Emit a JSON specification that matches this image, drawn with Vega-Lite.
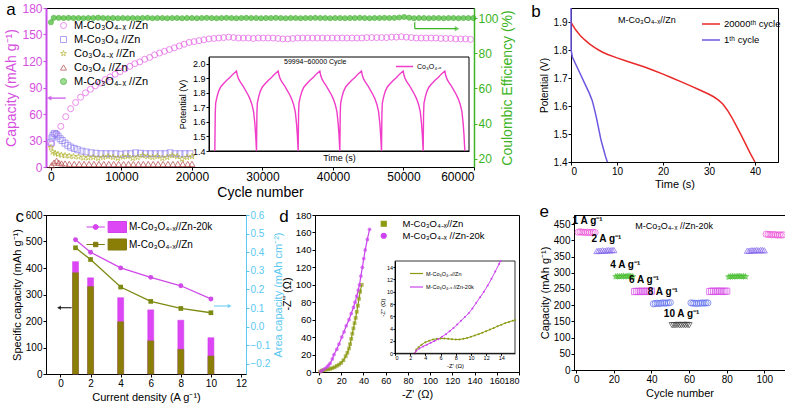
{
"$schema": "https://vega.github.io/schema/vega-lite/v6.json",
"background": "white",
"padding": {"left": 4, "top": 0, "right": 0, "bottom": 0},
"config": {
  "font": "Liberation Sans",
  "view": {"stroke": "black", "strokeWidth": 1},
  "axis": {"grid": false, "domainColor": "black", "tickColor": "black", "labelColor": "black", "titleColor": "black", "titleFontWeight": "normal", "tickSize": 3, "labelPadding": 1, "labelFontSize": 10, "titleFontSize": 11, "labelOverlap": false},
  "legend": {"titleFontWeight": "normal"}
},
"datasets": {
  "capA": [
    {"c":100,"v":26,"s":"MCo3O4x"},{"c":700,"v":38,"s":"MCo3O4x"},{"c":1400,"v":46,"s":"MCo3O4x"},{"c":2100,"v":57,"s":"MCo3O4x"},{"c":2800,"v":66,"s":"MCo3O4x"},{"c":3500,"v":73,"s":"MCo3O4x"},{"c":4200,"v":79,"s":"MCo3O4x"},{"c":4900,"v":84,"s":"MCo3O4x"},{"c":5600,"v":88,"s":"MCo3O4x"},{"c":6300,"v":92,"s":"MCo3O4x"},{"c":7000,"v":95,"s":"MCo3O4x"},{"c":7700,"v":99,"s":"MCo3O4x"},{"c":8400,"v":102,"s":"MCo3O4x"},{"c":9100,"v":105,"s":"MCo3O4x"},{"c":9800,"v":108,"s":"MCo3O4x"},{"c":10500,"v":111,"s":"MCo3O4x"},{"c":11200,"v":114,"s":"MCo3O4x"},{"c":11900,"v":117,"s":"MCo3O4x"},{"c":12600,"v":119,"s":"MCo3O4x"},{"c":13300,"v":122,"s":"MCo3O4x"},{"c":14000,"v":124,"s":"MCo3O4x"},{"c":14700,"v":127,"s":"MCo3O4x"},{"c":15400,"v":129,"s":"MCo3O4x"},{"c":16100,"v":131,"s":"MCo3O4x"},{"c":16800,"v":133,"s":"MCo3O4x"},{"c":17500,"v":135,"s":"MCo3O4x"},{"c":18200,"v":137,"s":"MCo3O4x"},{"c":18900,"v":139,"s":"MCo3O4x"},{"c":19600,"v":141,"s":"MCo3O4x"},{"c":20300,"v":142,"s":"MCo3O4x"},{"c":21000,"v":143,"s":"MCo3O4x"},{"c":21700,"v":144,"s":"MCo3O4x"},{"c":22400,"v":145,"s":"MCo3O4x"},{"c":23100,"v":145.5,"s":"MCo3O4x"},{"c":23800,"v":146,"s":"MCo3O4x"},{"c":24500,"v":146.5,"s":"MCo3O4x"},{"c":25200,"v":147,"s":"MCo3O4x"},{"c":25900,"v":146.5,"s":"MCo3O4x"},{"c":26600,"v":146,"s":"MCo3O4x"},{"c":27300,"v":146,"s":"MCo3O4x"},{"c":28000,"v":146,"s":"MCo3O4x"},{"c":28700,"v":145.5,"s":"MCo3O4x"},{"c":29400,"v":146,"s":"MCo3O4x"},{"c":30100,"v":146,"s":"MCo3O4x"},{"c":30800,"v":146,"s":"MCo3O4x"},{"c":31500,"v":146,"s":"MCo3O4x"},{"c":32200,"v":145.5,"s":"MCo3O4x"},{"c":32900,"v":145,"s":"MCo3O4x"},{"c":33600,"v":145,"s":"MCo3O4x"},{"c":34300,"v":145.5,"s":"MCo3O4x"},{"c":35000,"v":146,"s":"MCo3O4x"},{"c":35700,"v":146,"s":"MCo3O4x"},{"c":36400,"v":146,"s":"MCo3O4x"},{"c":37100,"v":146,"s":"MCo3O4x"},{"c":37800,"v":146,"s":"MCo3O4x"},{"c":38500,"v":146,"s":"MCo3O4x"},{"c":39200,"v":146,"s":"MCo3O4x"},{"c":39900,"v":146,"s":"MCo3O4x"},{"c":40600,"v":146,"s":"MCo3O4x"},{"c":41300,"v":146,"s":"MCo3O4x"},{"c":42000,"v":146,"s":"MCo3O4x"},{"c":42700,"v":146,"s":"MCo3O4x"},{"c":43400,"v":146,"s":"MCo3O4x"},{"c":44100,"v":146,"s":"MCo3O4x"},{"c":44800,"v":146.5,"s":"MCo3O4x"},{"c":45500,"v":146.5,"s":"MCo3O4x"},{"c":46200,"v":146.5,"s":"MCo3O4x"},{"c":46900,"v":146.5,"s":"MCo3O4x"},{"c":47600,"v":146.5,"s":"MCo3O4x"},{"c":48300,"v":147,"s":"MCo3O4x"},{"c":49000,"v":147,"s":"MCo3O4x"},{"c":49700,"v":147.5,"s":"MCo3O4x"},{"c":50400,"v":147,"s":"MCo3O4x"},{"c":51100,"v":146.5,"s":"MCo3O4x"},{"c":51800,"v":146,"s":"MCo3O4x"},{"c":52500,"v":146,"s":"MCo3O4x"},{"c":53200,"v":146,"s":"MCo3O4x"},{"c":53900,"v":146,"s":"MCo3O4x"},{"c":54600,"v":146,"s":"MCo3O4x"},{"c":55300,"v":145.5,"s":"MCo3O4x"},{"c":56000,"v":145.5,"s":"MCo3O4x"},{"c":56700,"v":145.5,"s":"MCo3O4x"},{"c":57400,"v":145,"s":"MCo3O4x"},{"c":58100,"v":145,"s":"MCo3O4x"},{"c":58800,"v":145,"s":"MCo3O4x"},{"c":59500,"v":144.5,"s":"MCo3O4x"},
    {"c":0,"v":28,"s":"MCo3O4"},{"c":150,"v":33,"s":"MCo3O4"},{"c":300,"v":36,"s":"MCo3O4"},{"c":500,"v":38,"s":"MCo3O4"},{"c":750,"v":37,"s":"MCo3O4"},{"c":1000,"v":35,"s":"MCo3O4"},{"c":1300,"v":32,"s":"MCo3O4"},{"c":1600,"v":30,"s":"MCo3O4"},{"c":2000,"v":27,"s":"MCo3O4"},{"c":2400,"v":24.5,"s":"MCo3O4"},{"c":2800,"v":22.5,"s":"MCo3O4"},{"c":3300,"v":21,"s":"MCo3O4"},{"c":3800,"v":19.5,"s":"MCo3O4"},{"c":4400,"v":18,"s":"MCo3O4"},{"c":5000,"v":17,"s":"MCo3O4"},{"c":5700,"v":16,"s":"MCo3O4"},{"c":6400,"v":15.5,"s":"MCo3O4"},{"c":7100,"v":15,"s":"MCo3O4"},{"c":7800,"v":15,"s":"MCo3O4"},{"c":8500,"v":15,"s":"MCo3O4"},{"c":9200,"v":15,"s":"MCo3O4"},{"c":9900,"v":14.5,"s":"MCo3O4"},{"c":10600,"v":15,"s":"MCo3O4"},{"c":11300,"v":15,"s":"MCo3O4"},{"c":12000,"v":16,"s":"MCo3O4"},{"c":12700,"v":15.5,"s":"MCo3O4"},{"c":13400,"v":15,"s":"MCo3O4"},{"c":14100,"v":15,"s":"MCo3O4"},{"c":14800,"v":15,"s":"MCo3O4"},{"c":15500,"v":15,"s":"MCo3O4"},{"c":16200,"v":15,"s":"MCo3O4"},{"c":16900,"v":16,"s":"MCo3O4"},{"c":17600,"v":15,"s":"MCo3O4"},{"c":18300,"v":15,"s":"MCo3O4"},{"c":19000,"v":15,"s":"MCo3O4"},{"c":19700,"v":15,"s":"MCo3O4"},
    {"c":0,"v":22,"s":"Co3O4x"},{"c":250,"v":17,"s":"Co3O4x"},{"c":600,"v":15.5,"s":"Co3O4x"},{"c":1000,"v":14.5,"s":"Co3O4x"},{"c":1500,"v":13.5,"s":"Co3O4x"},{"c":2000,"v":13,"s":"Co3O4x"},{"c":2600,"v":12.5,"s":"Co3O4x"},{"c":3200,"v":12,"s":"Co3O4x"},{"c":3900,"v":11.5,"s":"Co3O4x"},{"c":4600,"v":10.5,"s":"Co3O4x"},{"c":5300,"v":10.5,"s":"Co3O4x"},{"c":6000,"v":11,"s":"Co3O4x"},{"c":6700,"v":10,"s":"Co3O4x"},{"c":7400,"v":11,"s":"Co3O4x"},{"c":8100,"v":12,"s":"Co3O4x"},{"c":8800,"v":11,"s":"Co3O4x"},{"c":9500,"v":10,"s":"Co3O4x"},{"c":10200,"v":11.5,"s":"Co3O4x"},{"c":10900,"v":12,"s":"Co3O4x"},{"c":11600,"v":10,"s":"Co3O4x"},{"c":12300,"v":11,"s":"Co3O4x"},{"c":13000,"v":13,"s":"Co3O4x"},{"c":13700,"v":12,"s":"Co3O4x"},{"c":14400,"v":11,"s":"Co3O4x"},{"c":15100,"v":12,"s":"Co3O4x"},{"c":15800,"v":10,"s":"Co3O4x"},{"c":16500,"v":11,"s":"Co3O4x"},{"c":17200,"v":13,"s":"Co3O4x"},{"c":17900,"v":12,"s":"Co3O4x"},{"c":18600,"v":9,"s":"Co3O4x"},{"c":19300,"v":11,"s":"Co3O4x"},{"c":20000,"v":12,"s":"Co3O4x"},
    {"c":100,"v":2,"s":"Co3O4"},{"c":450,"v":5,"s":"Co3O4"},{"c":800,"v":7,"s":"Co3O4"},{"c":1100,"v":5,"s":"Co3O4"},{"c":1500,"v":4,"s":"Co3O4"},{"c":2000,"v":4,"s":"Co3O4"},{"c":2600,"v":3.5,"s":"Co3O4"},{"c":3300,"v":3.5,"s":"Co3O4"},{"c":4000,"v":3.5,"s":"Co3O4"},{"c":4700,"v":3.5,"s":"Co3O4"},{"c":5400,"v":3.5,"s":"Co3O4"},{"c":6100,"v":3.5,"s":"Co3O4"},{"c":6800,"v":3.5,"s":"Co3O4"},{"c":7500,"v":3.5,"s":"Co3O4"},{"c":8200,"v":3.5,"s":"Co3O4"},{"c":8900,"v":3.5,"s":"Co3O4"},{"c":9600,"v":3.5,"s":"Co3O4"},{"c":10300,"v":3.5,"s":"Co3O4"},{"c":11000,"v":3.5,"s":"Co3O4"},{"c":11700,"v":3.5,"s":"Co3O4"},{"c":12400,"v":3.5,"s":"Co3O4"},{"c":13100,"v":3.5,"s":"Co3O4"},{"c":13800,"v":3.5,"s":"Co3O4"},{"c":14500,"v":3.5,"s":"Co3O4"},{"c":15200,"v":3.5,"s":"Co3O4"},{"c":15900,"v":3.5,"s":"Co3O4"},{"c":16600,"v":3.5,"s":"Co3O4"},{"c":17300,"v":3.5,"s":"Co3O4"},{"c":18000,"v":3.5,"s":"Co3O4"},{"c":18700,"v":3.5,"s":"Co3O4"},{"c":19400,"v":3.5,"s":"Co3O4"},{"c":20000,"v":3.5,"s":"Co3O4"}
  ],
  "ceA": [
    {"c":0,"v":97.6,"s":"CE"},{"c":400,"v":100.1,"s":"CE"},{"c":1100,"v":100.1,"s":"CE"},{"c":1800,"v":100,"s":"CE"},{"c":2500,"v":100.1,"s":"CE"},{"c":3200,"v":100,"s":"CE"},{"c":3900,"v":100,"s":"CE"},{"c":4600,"v":99.9,"s":"CE"},{"c":5300,"v":100,"s":"CE"},{"c":6000,"v":100,"s":"CE"},{"c":6700,"v":100.2,"s":"CE"},{"c":7400,"v":100,"s":"CE"},{"c":8100,"v":99.9,"s":"CE"},{"c":8800,"v":100,"s":"CE"},{"c":9500,"v":99.9,"s":"CE"},{"c":10200,"v":100,"s":"CE"},{"c":10900,"v":99.9,"s":"CE"},{"c":11600,"v":100,"s":"CE"},{"c":12300,"v":99.9,"s":"CE"},{"c":13000,"v":100,"s":"CE"},{"c":13700,"v":100.1,"s":"CE"},{"c":14400,"v":99.9,"s":"CE"},{"c":15100,"v":100,"s":"CE"},{"c":15800,"v":100,"s":"CE"},{"c":16500,"v":99.9,"s":"CE"},{"c":17200,"v":100,"s":"CE"},{"c":17900,"v":100,"s":"CE"},{"c":18600,"v":99.9,"s":"CE"},{"c":19300,"v":100,"s":"CE"},{"c":20000,"v":100,"s":"CE"},{"c":20700,"v":99.9,"s":"CE"},{"c":21400,"v":100,"s":"CE"},{"c":22100,"v":100.1,"s":"CE"},{"c":22800,"v":100,"s":"CE"},{"c":23500,"v":99.9,"s":"CE"},{"c":24200,"v":100,"s":"CE"},{"c":24900,"v":100.1,"s":"CE"},{"c":25600,"v":100,"s":"CE"},{"c":26300,"v":99.9,"s":"CE"},{"c":27000,"v":100,"s":"CE"},{"c":27700,"v":100.1,"s":"CE"},{"c":28400,"v":100,"s":"CE"},{"c":29100,"v":100,"s":"CE"},{"c":29800,"v":99.9,"s":"CE"},{"c":30500,"v":100,"s":"CE"},{"c":31200,"v":100,"s":"CE"},{"c":31900,"v":100.1,"s":"CE"},{"c":32600,"v":100,"s":"CE"},{"c":33300,"v":99.9,"s":"CE"},{"c":34000,"v":100,"s":"CE"},{"c":34700,"v":100,"s":"CE"},{"c":35400,"v":99.9,"s":"CE"},{"c":36100,"v":100,"s":"CE"},{"c":36800,"v":100,"s":"CE"},{"c":37500,"v":100.1,"s":"CE"},{"c":38200,"v":100,"s":"CE"},{"c":38900,"v":100,"s":"CE"},{"c":39600,"v":99.9,"s":"CE"},{"c":40300,"v":100,"s":"CE"},{"c":41000,"v":100,"s":"CE"},{"c":41700,"v":99.9,"s":"CE"},{"c":42400,"v":100,"s":"CE"},{"c":43100,"v":100,"s":"CE"},{"c":43800,"v":100.1,"s":"CE"},{"c":44500,"v":100,"s":"CE"},{"c":45200,"v":99.9,"s":"CE"},{"c":45900,"v":100,"s":"CE"},{"c":46600,"v":100,"s":"CE"},{"c":47300,"v":100.1,"s":"CE"},{"c":48000,"v":100,"s":"CE"},{"c":48700,"v":100.1,"s":"CE"},{"c":49400,"v":100.3,"s":"CE"},{"c":50100,"v":100.6,"s":"CE"},{"c":50800,"v":100.2,"s":"CE"},{"c":51500,"v":99.9,"s":"CE"},{"c":52200,"v":100,"s":"CE"},{"c":52900,"v":100,"s":"CE"},{"c":53600,"v":99.9,"s":"CE"},{"c":54300,"v":100,"s":"CE"},{"c":55000,"v":100,"s":"CE"},{"c":55700,"v":99.9,"s":"CE"},{"c":56400,"v":100,"s":"CE"},{"c":57100,"v":100,"s":"CE"},{"c":57800,"v":99.9,"s":"CE"},{"c":58500,"v":100,"s":"CE"},{"c":59200,"v":100,"s":"CE"},{"c":59900,"v":100,"s":"CE"}
  ],
  "insA": [
    {"t":0,"v":1.4},{"t":1,"v":1.66},{"t":2,"v":1.73},{"t":5,"v":1.77},{"t":9,"v":1.81},{"t":14,"v":1.84},{"t":20,"v":1.86},{"t":28,"v":1.885},{"t":36,"v":1.905},{"t":44,"v":1.93},{"t":52,"v":1.95},{"t":54,"v":1.92},{"t":57,"v":1.895},{"t":61,"v":1.875},{"t":67,"v":1.85},{"t":73,"v":1.82},{"t":79,"v":1.79},{"t":84,"v":1.76},{"t":89,"v":1.72},{"t":93,"v":1.67},{"t":96,"v":1.59},{"t":98,"v":1.51},
    {"t":100,"v":1.4},{"t":101,"v":1.66},{"t":102,"v":1.73},{"t":105,"v":1.77},{"t":109,"v":1.81},{"t":114,"v":1.84},{"t":120,"v":1.86},{"t":128,"v":1.885},{"t":136,"v":1.905},{"t":144,"v":1.93},{"t":152,"v":1.95},{"t":154,"v":1.92},{"t":157,"v":1.895},{"t":161,"v":1.875},{"t":167,"v":1.85},{"t":173,"v":1.82},{"t":179,"v":1.79},{"t":184,"v":1.76},{"t":189,"v":1.72},{"t":193,"v":1.67},{"t":196,"v":1.59},{"t":198,"v":1.51},
    {"t":200,"v":1.4},{"t":201,"v":1.66},{"t":202,"v":1.73},{"t":205,"v":1.77},{"t":209,"v":1.81},{"t":214,"v":1.84},{"t":220,"v":1.86},{"t":228,"v":1.885},{"t":236,"v":1.905},{"t":244,"v":1.93},{"t":252,"v":1.95},{"t":254,"v":1.92},{"t":257,"v":1.895},{"t":261,"v":1.875},{"t":267,"v":1.85},{"t":273,"v":1.82},{"t":279,"v":1.79},{"t":284,"v":1.76},{"t":289,"v":1.72},{"t":293,"v":1.67},{"t":296,"v":1.59},{"t":298,"v":1.51},
    {"t":300,"v":1.4},{"t":301,"v":1.66},{"t":302,"v":1.73},{"t":305,"v":1.77},{"t":309,"v":1.81},{"t":314,"v":1.84},{"t":320,"v":1.86},{"t":328,"v":1.885},{"t":336,"v":1.905},{"t":344,"v":1.93},{"t":352,"v":1.95},{"t":354,"v":1.92},{"t":357,"v":1.895},{"t":361,"v":1.875},{"t":367,"v":1.85},{"t":373,"v":1.82},{"t":379,"v":1.79},{"t":384,"v":1.76},{"t":389,"v":1.72},{"t":393,"v":1.67},{"t":396,"v":1.59},{"t":398,"v":1.51},
    {"t":400,"v":1.4},{"t":401,"v":1.66},{"t":402,"v":1.73},{"t":405,"v":1.77},{"t":409,"v":1.81},{"t":414,"v":1.84},{"t":420,"v":1.86},{"t":428,"v":1.885},{"t":436,"v":1.905},{"t":444,"v":1.93},{"t":452,"v":1.95},{"t":454,"v":1.92},{"t":457,"v":1.895},{"t":461,"v":1.875},{"t":467,"v":1.85},{"t":473,"v":1.82},{"t":479,"v":1.79},{"t":484,"v":1.76},{"t":489,"v":1.72},{"t":493,"v":1.67},{"t":496,"v":1.59},{"t":498,"v":1.51},
    {"t":500,"v":1.4},{"t":501,"v":1.66},{"t":502,"v":1.73},{"t":505,"v":1.77},{"t":509,"v":1.81},{"t":514,"v":1.84},{"t":520,"v":1.86},{"t":528,"v":1.885},{"t":536,"v":1.905},{"t":544,"v":1.93},{"t":552,"v":1.95},{"t":554,"v":1.92},{"t":557,"v":1.895},{"t":561,"v":1.875},{"t":567,"v":1.85},{"t":573,"v":1.82},{"t":579,"v":1.79},{"t":584,"v":1.76},{"t":589,"v":1.72},{"t":593,"v":1.67},{"t":596,"v":1.59},{"t":598,"v":1.51},
    {"t":600,"v":1.4}
  ],
  "bdat": [
    {"t":0,"v":1.9,"s":"20000ᵗʰ cycle","o":0},{"t":0.5,"v":1.885,"s":"20000ᵗʰ cycle","o":1},{"t":1,"v":1.872,"s":"20000ᵗʰ cycle","o":2},{"t":2,"v":1.852,"s":"20000ᵗʰ cycle","o":3},{"t":3,"v":1.836,"s":"20000ᵗʰ cycle","o":4},{"t":4,"v":1.822,"s":"20000ᵗʰ cycle","o":5},{"t":5,"v":1.81,"s":"20000ᵗʰ cycle","o":6},{"t":6,"v":1.8,"s":"20000ᵗʰ cycle","o":7},{"t":7,"v":1.791,"s":"20000ᵗʰ cycle","o":8},{"t":8,"v":1.784,"s":"20000ᵗʰ cycle","o":9},{"t":10,"v":1.772,"s":"20000ᵗʰ cycle","o":10},{"t":12,"v":1.761,"s":"20000ᵗʰ cycle","o":11},{"t":14,"v":1.75,"s":"20000ᵗʰ cycle","o":12},{"t":16,"v":1.739,"s":"20000ᵗʰ cycle","o":13},{"t":18,"v":1.727,"s":"20000ᵗʰ cycle","o":14},{"t":20,"v":1.714,"s":"20000ᵗʰ cycle","o":15},{"t":22,"v":1.7,"s":"20000ᵗʰ cycle","o":16},{"t":24,"v":1.686,"s":"20000ᵗʰ cycle","o":17},{"t":26,"v":1.672,"s":"20000ᵗʰ cycle","o":18},{"t":28,"v":1.657,"s":"20000ᵗʰ cycle","o":19},{"t":30,"v":1.642,"s":"20000ᵗʰ cycle","o":20},{"t":31,"v":1.633,"s":"20000ᵗʰ cycle","o":21},{"t":32,"v":1.622,"s":"20000ᵗʰ cycle","o":22},{"t":33,"v":1.607,"s":"20000ᵗʰ cycle","o":23},{"t":34,"v":1.585,"s":"20000ᵗʰ cycle","o":24},{"t":35,"v":1.558,"s":"20000ᵗʰ cycle","o":25},{"t":36,"v":1.527,"s":"20000ᵗʰ cycle","o":26},{"t":37,"v":1.496,"s":"20000ᵗʰ cycle","o":27},{"t":38,"v":1.463,"s":"20000ᵗʰ cycle","o":28},{"t":39,"v":1.43,"s":"20000ᵗʰ cycle","o":29},{"t":40,"v":1.4,"s":"20000ᵗʰ cycle","o":30},
    {"t":0,"v":1.95,"s":"1ᵗʰ cycle","o":0},{"t":0.02,"v":1.8,"s":"1ᵗʰ cycle","o":1},{"t":0.3,"v":1.775,"s":"1ᵗʰ cycle","o":2},{"t":1,"v":1.75,"s":"1ᵗʰ cycle","o":3},{"t":2,"v":1.715,"s":"1ᵗʰ cycle","o":4},{"t":3,"v":1.68,"s":"1ᵗʰ cycle","o":5},{"t":4,"v":1.645,"s":"1ᵗʰ cycle","o":6},{"t":4.6,"v":1.62,"s":"1ᵗʰ cycle","o":7},{"t":5,"v":1.595,"s":"1ᵗʰ cycle","o":8},{"t":5.5,"v":1.56,"s":"1ᵗʰ cycle","o":9},{"t":6,"v":1.52,"s":"1ᵗʰ cycle","o":10},{"t":6.5,"v":1.48,"s":"1ᵗʰ cycle","o":11},{"t":7,"v":1.45,"s":"1ᵗʰ cycle","o":12},{"t":7.5,"v":1.42,"s":"1ᵗʰ cycle","o":13},{"t":7.9,"v":1.4,"s":"1ᵗʰ cycle","o":14}
  ],
  "cbar": [
    {"x":1,"v":424,"s":"k20"},{"x":2,"v":363,"s":"k20"},{"x":4,"v":288,"s":"k20"},{"x":6,"v":242,"s":"k20"},{"x":8,"v":203,"s":"k20"},{"x":10,"v":137,"s":"k20"},
    {"x":1,"v":382,"s":"zn"},{"x":2,"v":330,"s":"zn"},{"x":4,"v":197,"s":"zn"},{"x":6,"v":125,"s":"zn"},{"x":8,"v":93,"s":"zn"},{"x":10,"v":68,"s":"zn"}
  ],
  "cline": [
    {"x":1,"v":0.467,"s":"k20"},{"x":2,"v":0.4,"s":"k20"},{"x":4,"v":0.316,"s":"k20"},{"x":6,"v":0.265,"s":"k20"},{"x":8,"v":0.22,"s":"k20"},{"x":10,"v":0.149,"s":"k20"},
    {"x":1,"v":0.424,"s":"zn"},{"x":2,"v":0.361,"s":"zn"},{"x":4,"v":0.213,"s":"zn"},{"x":6,"v":0.136,"s":"zn"},{"x":8,"v":0.098,"s":"zn"},{"x":10,"v":0.075,"s":"zn"}
  ],
  "dmain": [
    {"x":1,"v":0.5,"s":"zn"},{"x":2.5,"v":1.5,"s":"zn"},{"x":4,"v":2.2,"s":"zn"},{"x":6,"v":2.6,"s":"zn"},{"x":8,"v":3,"s":"zn"},{"x":10,"v":3.6,"s":"zn"},{"x":12,"v":4.5,"s":"zn"},{"x":14,"v":5.5,"s":"zn"},{"x":16,"v":7,"s":"zn"},{"x":18,"v":8.5,"s":"zn"},{"x":20,"v":10.5,"s":"zn"},{"x":22,"v":13.5,"s":"zn"},{"x":24,"v":18,"s":"zn"},{"x":25.5,"v":22,"s":"zn"},{"x":27,"v":27,"s":"zn"},{"x":28,"v":32,"s":"zn"},{"x":29,"v":38,"s":"zn"},{"x":30,"v":44,"s":"zn"},{"x":31,"v":50,"s":"zn"},{"x":32,"v":56,"s":"zn"},{"x":33,"v":62,"s":"zn"},{"x":34,"v":69,"s":"zn"},{"x":35,"v":76,"s":"zn"},{"x":36,"v":84,"s":"zn"},{"x":37,"v":92,"s":"zn"},{"x":38.5,"v":100,"s":"zn"},
    {"x":1.5,"v":0.5,"s":"k20"},{"x":3,"v":2,"s":"k20"},{"x":5,"v":3.5,"s":"k20"},{"x":7,"v":5.5,"s":"k20"},{"x":8.5,"v":7.5,"s":"k20"},{"x":10,"v":10,"s":"k20"},{"x":12,"v":15,"s":"k20"},{"x":13.5,"v":20,"s":"k20"},{"x":16,"v":26,"s":"k20"},{"x":18,"v":32,"s":"k20"},{"x":20.5,"v":40,"s":"k20"},{"x":22.5,"v":46,"s":"k20"},{"x":24.5,"v":53,"s":"k20"},{"x":27,"v":60,"s":"k20"},{"x":29,"v":67,"s":"k20"},{"x":31,"v":74,"s":"k20"},{"x":32.5,"v":80,"s":"k20"},{"x":34,"v":87,"s":"k20"},{"x":35.3,"v":94,"s":"k20"},{"x":36.4,"v":100,"s":"k20"},{"x":37.7,"v":110,"s":"k20"},{"x":39,"v":120,"s":"k20"},{"x":40.3,"v":130,"s":"k20"},{"x":41.6,"v":140,"s":"k20"},{"x":43.5,"v":152,"s":"k20"},{"x":45.5,"v":163.6,"s":"k20"}
  ],
  "dins": [
    {"x":2.6,"v":0,"s":"izn"},{"x":2.8,"v":0.6,"s":"izn"},{"x":3.1,"v":1,"s":"izn"},{"x":3.5,"v":1.4,"s":"izn"},{"x":4,"v":1.8,"s":"izn"},{"x":4.5,"v":2.05,"s":"izn"},{"x":5,"v":2.25,"s":"izn"},{"x":5.5,"v":2.35,"s":"izn"},{"x":6,"v":2.4,"s":"izn"},{"x":6.5,"v":2.4,"s":"izn"},{"x":7,"v":2.35,"s":"izn"},{"x":7.5,"v":2.3,"s":"izn"},{"x":8,"v":2.25,"s":"izn"},{"x":8.5,"v":2.25,"s":"izn"},{"x":9,"v":2.35,"s":"izn"},{"x":9.5,"v":2.5,"s":"izn"},{"x":10,"v":2.7,"s":"izn"},{"x":10.5,"v":2.9,"s":"izn"},{"x":11,"v":3.1,"s":"izn"},{"x":11.5,"v":3.35,"s":"izn"},{"x":12,"v":3.6,"s":"izn"},{"x":12.5,"v":3.85,"s":"izn"},{"x":13,"v":4.1,"s":"izn"},{"x":13.5,"v":4.4,"s":"izn"},{"x":14,"v":4.65,"s":"izn"},{"x":14.5,"v":4.9,"s":"izn"},{"x":15,"v":5.1,"s":"izn"},{"x":15.5,"v":5.3,"s":"izn"},{"x":15.8,"v":5.4,"s":"izn"},
    {"x":2.6,"v":0,"s":"i20"},{"x":2.8,"v":0.4,"s":"i20"},{"x":3.2,"v":0.8,"s":"i20"},{"x":3.7,"v":1.1,"s":"i20"},{"x":4.2,"v":1.4,"s":"i20"},{"x":4.7,"v":1.7,"s":"i20"},{"x":5.2,"v":2,"s":"i20"},{"x":5.7,"v":2.3,"s":"i20"},{"x":6.2,"v":2.7,"s":"i20"},{"x":6.7,"v":3.1,"s":"i20"},{"x":7.2,"v":3.6,"s":"i20"},{"x":7.7,"v":4.1,"s":"i20"},{"x":8.2,"v":4.7,"s":"i20"},{"x":8.7,"v":5.3,"s":"i20"},{"x":9.2,"v":5.9,"s":"i20"},{"x":9.7,"v":6.5,"s":"i20"},{"x":10.2,"v":7.3,"s":"i20"},{"x":10.7,"v":8.2,"s":"i20"},{"x":11.2,"v":9.1,"s":"i20"},{"x":11.7,"v":10,"s":"i20"},{"x":12.2,"v":11,"s":"i20"},{"x":12.7,"v":12.1,"s":"i20"},{"x":13.2,"v":13.3,"s":"i20"},{"x":13.7,"v":14.5,"s":"i20"},{"x":13.9,"v":15,"s":"i20"}
  ],
  "edat": [
    {"x":1,"v":425,"r":"1 A g⁻¹"},{"x":2,"v":426,"r":"1 A g⁻¹"},{"x":3,"v":425,"r":"1 A g⁻¹"},{"x":4,"v":425,"r":"1 A g⁻¹"},{"x":5,"v":424,"r":"1 A g⁻¹"},{"x":6,"v":425,"r":"1 A g⁻¹"},{"x":7,"v":424,"r":"1 A g⁻¹"},{"x":8,"v":424,"r":"1 A g⁻¹"},{"x":9,"v":425,"r":"1 A g⁻¹"},{"x":10,"v":424,"r":"1 A g⁻¹"},
    {"x":11,"v":367,"r":"2 A g⁻¹"},{"x":12,"v":368,"r":"2 A g⁻¹"},{"x":13,"v":368,"r":"2 A g⁻¹"},{"x":14,"v":369,"r":"2 A g⁻¹"},{"x":15,"v":368,"r":"2 A g⁻¹"},{"x":16,"v":369,"r":"2 A g⁻¹"},{"x":17,"v":370,"r":"2 A g⁻¹"},{"x":18,"v":369,"r":"2 A g⁻¹"},{"x":19,"v":370,"r":"2 A g⁻¹"},{"x":20,"v":370,"r":"2 A g⁻¹"},
    {"x":21,"v":288,"r":"4 A g⁻¹"},{"x":22,"v":289,"r":"4 A g⁻¹"},{"x":23,"v":288,"r":"4 A g⁻¹"},{"x":24,"v":289,"r":"4 A g⁻¹"},{"x":25,"v":290,"r":"4 A g⁻¹"},{"x":26,"v":288,"r":"4 A g⁻¹"},{"x":27,"v":289,"r":"4 A g⁻¹"},{"x":28,"v":290,"r":"4 A g⁻¹"},{"x":29,"v":289,"r":"4 A g⁻¹"},{"x":30,"v":288,"r":"4 A g⁻¹"},
    {"x":31,"v":242,"r":"6 A g⁻¹"},{"x":32,"v":242,"r":"6 A g⁻¹"},{"x":33,"v":243,"r":"6 A g⁻¹"},{"x":34,"v":242,"r":"6 A g⁻¹"},{"x":35,"v":243,"r":"6 A g⁻¹"},{"x":36,"v":242,"r":"6 A g⁻¹"},{"x":37,"v":243,"r":"6 A g⁻¹"},{"x":38,"v":243,"r":"6 A g⁻¹"},{"x":39,"v":242,"r":"6 A g⁻¹"},{"x":40,"v":243,"r":"6 A g⁻¹"},
    {"x":41,"v":204,"r":"8 A g⁻¹"},{"x":42,"v":205,"r":"8 A g⁻¹"},{"x":43,"v":206,"r":"8 A g⁻¹"},{"x":44,"v":205,"r":"8 A g⁻¹"},{"x":45,"v":206,"r":"8 A g⁻¹"},{"x":46,"v":207,"r":"8 A g⁻¹"},{"x":47,"v":206,"r":"8 A g⁻¹"},{"x":48,"v":207,"r":"8 A g⁻¹"},{"x":49,"v":207,"r":"8 A g⁻¹"},{"x":50,"v":208,"r":"8 A g⁻¹"},
    {"x":51,"v":138,"r":"10 A g⁻¹"},{"x":52,"v":138,"r":"10 A g⁻¹"},{"x":53,"v":138,"r":"10 A g⁻¹"},{"x":54,"v":139,"r":"10 A g⁻¹"},{"x":55,"v":138,"r":"10 A g⁻¹"},{"x":56,"v":138,"r":"10 A g⁻¹"},{"x":57,"v":139,"r":"10 A g⁻¹"},{"x":58,"v":138,"r":"10 A g⁻¹"},{"x":59,"v":139,"r":"10 A g⁻¹"},{"x":60,"v":138,"r":"10 A g⁻¹"},
    {"x":61,"v":207,"r":"8 A g⁻¹"},{"x":62,"v":206,"r":"8 A g⁻¹"},{"x":63,"v":206,"r":"8 A g⁻¹"},{"x":64,"v":205,"r":"8 A g⁻¹"},{"x":65,"v":206,"r":"8 A g⁻¹"},{"x":66,"v":206,"r":"8 A g⁻¹"},{"x":67,"v":207,"r":"8 A g⁻¹"},{"x":68,"v":206,"r":"8 A g⁻¹"},{"x":69,"v":207,"r":"8 A g⁻¹"},{"x":70,"v":207,"r":"8 A g⁻¹"},
    {"x":71,"v":242,"r":"6 A g⁻¹"},{"x":72,"v":243,"r":"6 A g⁻¹"},{"x":73,"v":243,"r":"6 A g⁻¹"},{"x":74,"v":242,"r":"6 A g⁻¹"},{"x":75,"v":243,"r":"6 A g⁻¹"},{"x":76,"v":243,"r":"6 A g⁻¹"},{"x":77,"v":243,"r":"6 A g⁻¹"},{"x":78,"v":242,"r":"6 A g⁻¹"},{"x":79,"v":243,"r":"6 A g⁻¹"},{"x":80,"v":243,"r":"6 A g⁻¹"},
    {"x":81,"v":287,"r":"4 A g⁻¹"},{"x":82,"v":288,"r":"4 A g⁻¹"},{"x":83,"v":289,"r":"4 A g⁻¹"},{"x":84,"v":288,"r":"4 A g⁻¹"},{"x":85,"v":288,"r":"4 A g⁻¹"},{"x":86,"v":289,"r":"4 A g⁻¹"},{"x":87,"v":289,"r":"4 A g⁻¹"},{"x":88,"v":288,"r":"4 A g⁻¹"},{"x":89,"v":289,"r":"4 A g⁻¹"},{"x":90,"v":288,"r":"4 A g⁻¹"},
    {"x":91,"v":368,"r":"2 A g⁻¹"},{"x":92,"v":368,"r":"2 A g⁻¹"},{"x":93,"v":369,"r":"2 A g⁻¹"},{"x":94,"v":369,"r":"2 A g⁻¹"},{"x":95,"v":369,"r":"2 A g⁻¹"},{"x":96,"v":370,"r":"2 A g⁻¹"},{"x":97,"v":369,"r":"2 A g⁻¹"},{"x":98,"v":370,"r":"2 A g⁻¹"},{"x":99,"v":370,"r":"2 A g⁻¹"},{"x":100,"v":369,"r":"2 A g⁻¹"},
    {"x":101,"v":419,"r":"1 A g⁻¹"},{"x":102,"v":418,"r":"1 A g⁻¹"},{"x":103,"v":418,"r":"1 A g⁻¹"},{"x":104,"v":417,"r":"1 A g⁻¹"},{"x":105,"v":418,"r":"1 A g⁻¹"},{"x":106,"v":417,"r":"1 A g⁻¹"},{"x":107,"v":416,"r":"1 A g⁻¹"},{"x":108,"v":417,"r":"1 A g⁻¹"},{"x":109,"v":416,"r":"1 A g⁻¹"},{"x":110,"v":417,"r":"1 A g⁻¹"}
  ]
},
"vconcat": [
  {
    "hconcat": [
      {
        "width": 428, "height": 159,
        "layer": [
          {
            "layer": [
              {
                "layer": [
                  {
                    "data": {"name": "capA"},
                    "mark": {"type": "point", "filled": true, "size": 36, "strokeWidth": 1},
                    "encoding": {
                      "x": {"field": "c", "type": "quantitative", "scale": {"domain": [-700, 60000], "nice": false, "zero": false},
                            "axis": {"orient": "bottom", "values": [0,10000,20000,30000,40000,50000,60000], "tickCount": 30, "format": "d", "labelFontSize": 12, "title": "Cycle number", "titleFontSize": 14, "titlePadding": 3}},
                      "y": {"field": "v", "type": "quantitative", "scale": {"domain": [0, 180], "nice": false},
                            "axis": {"orient": "left", "values": [0,30,60,90,120,150,180], "tickCount": 30, "format": "d", "labelFontSize": 12, "labelColor": "#d64fe0", "domainColor": "#c84ee6", "domainWidth": 2, "tickColor": "#c84ee6", "title": "Capacity (mAh g⁻¹)", "titleColor": "#d64fe0", "titleFontSize": 14, "titlePadding": 3}},
                      "fill": {"field": "s", "type": "nominal", "scale": {"domain": ["MCo3O4x","MCo3O4","Co3O4x","Co3O4","CE"], "range": ["transparent","transparent","transparent","transparent","#3cba26"]},
                               "legend": {"orient": "none", "legendX": 12, "legendY": 12, "title": null, "labelFontSize": 11, "symbolSize": 36, "symbolStrokeWidth": 1, "rowPadding": 2, "labelOffset": 5, "labelExpr": "datum.label=='MCo3O4x'?'M-Co₃O₄₋ₓ //Zn':datum.label=='MCo3O4'?'M-Co₃O₄ //Zn':datum.label=='Co3O4x'?'Co₃O₄₋ₓ //Zn':datum.label=='Co3O4'?'Co₃O₄ //Zn':'M-Co₃O₄₋ₓ //Zn'"}},
                      "stroke": {"field": "s", "type": "nominal", "scale": {"domain": ["MCo3O4x","MCo3O4","Co3O4x","Co3O4","CE"], "range": ["#e55be5","#8c7cf0","#b0b025","#b54545","#2f9e1c"]},
                               "legend": {"orient": "none", "legendX": 12, "legendY": 12, "title": null, "labelFontSize": 11, "symbolSize": 36, "symbolStrokeWidth": 1, "rowPadding": 2, "labelOffset": 5, "labelExpr": "datum.label=='MCo3O4x'?'M-Co₃O₄₋ₓ //Zn':datum.label=='MCo3O4'?'M-Co₃O₄ //Zn':datum.label=='Co3O4x'?'Co₃O₄₋ₓ //Zn':datum.label=='Co3O4'?'Co₃O₄ //Zn':'M-Co₃O₄₋ₓ //Zn'"}},
                      "shape": {"field": "s", "type": "nominal", "scale": {"domain": ["MCo3O4x","MCo3O4","Co3O4x","Co3O4","CE"], "range": ["circle","square","M0,-1L0.2245,-0.309L0.951,-0.309L0.363,0.118L0.588,0.809L0,0.382L-0.588,0.809L-0.363,0.118L-0.951,-0.309L-0.2245,-0.309Z","triangle-up","circle"]},
                               "legend": {"orient": "none", "legendX": 12, "legendY": 12, "title": null, "labelFontSize": 11, "symbolSize": 36, "symbolStrokeWidth": 1, "rowPadding": 2, "labelOffset": 5, "labelExpr": "datum.label=='MCo3O4x'?'M-Co₃O₄₋ₓ //Zn':datum.label=='MCo3O4'?'M-Co₃O₄ //Zn':datum.label=='Co3O4x'?'Co₃O₄₋ₓ //Zn':datum.label=='Co3O4'?'Co₃O₄ //Zn':'M-Co₃O₄₋ₓ //Zn'"}}
                    }
                  },
                  {"data": {"values": [{}]}, "mark": {"type": "rule", "color": "#c84ee6", "strokeWidth": 1.2}, "encoding": {"x": {"datum": -300}, "x2": {"datum": 2100}, "y": {"datum": 78}}},
                  {"data": {"values": [{}]}, "mark": {"type": "point", "shape": "triangle-left", "filled": true, "size": 28, "color": "#c84ee6"}, "encoding": {"x": {"datum": -250}, "y": {"datum": 78}}},
                  {"data": {"values": [{}]}, "mark": {"type": "rule", "color": "#3cb424", "strokeWidth": 1.2}, "encoding": {"x": {"datum": 51600}, "y": {"datum": 164}, "y2": {"datum": 156.6}}},
                  {"data": {"values": [{}]}, "mark": {"type": "rule", "color": "#3cb424", "strokeWidth": 1.2}, "encoding": {"x": {"datum": 51600}, "x2": {"datum": 57500}, "y": {"datum": 156.6}}},
                  {"data": {"values": [{}]}, "mark": {"type": "point", "shape": "triangle-right", "filled": true, "size": 28, "color": "#3cb424"}, "encoding": {"x": {"datum": 57600}, "y": {"datum": 156.6}}},
                  {"data": {"values": [{}]}, "mark": {"type": "text", "text": "a", "fontSize": 17, "align": "center", "baseline": "alphabetic"}, "encoding": {"x": {"datum": -5664}, "y": {"datum": 172.6}}}
                ]
              },
              {
                "data": {"name": "ceA"},
                "mark": {"type": "point", "filled": true, "size": 26, "strokeWidth": 0.8},
                "encoding": {
                  "x": {"field": "c", "type": "quantitative"},
                  "y": {"field": "v", "type": "quantitative", "scale": {"domain": [15.3, 105.7], "nice": false, "zero": false},
                        "axis": {"orient": "right", "values": [20,40,60,80,100], "tickCount": 30, "format": "d", "labelFontSize": 12, "labelColor": "#3cb424", "domainColor": "#3cb424", "domainWidth": 1.5, "tickColor": "#3cb424", "title": "Coulombic Efficiency (%)", "titleColor": "#3cb424", "titleFontSize": 14, "titleAngle": 270, "titleBaseline": "top", "titlePadding": 2}},
                  "fill": {"field": "s", "type": "nominal"},
                  "stroke": {"field": "s", "type": "nominal"},
                  "shape": {"field": "s", "type": "nominal"}
                }
              }
            ],
            "resolve": {"scale": {"y": "independent"}}
          },
          {
            "layer": [
              {"data": {"values": [{}]}, "mark": {"type": "rect", "fill": "white", "stroke": "black", "strokeWidth": 1},
               "encoding": {"x": {"datum": -14, "type": "quantitative"}, "x2": {"datum": 610}, "y": {"datum": 1.4, "type": "quantitative"}, "y2": {"datum": 2.046}}},
              {"data": {"name": "insA"}, "mark": {"type": "line", "strokeWidth": 1.4},
               "encoding": {
                 "x": {"field": "t", "type": "quantitative", "scale": {"domain": [-14, 610], "range": [163, 423], "nice": false, "zero": false},
                       "axis": {"orient": "bottom", "offset": -16, "labels": false, "ticks": false, "title": "Time (s)", "titleFontSize": 9, "titlePadding": 2, "zindex": 1}},
                 "y": {"field": "v", "type": "quantitative", "scale": {"domain": [1.4, 2.046], "range": [143, 49], "nice": false, "zero": false},
                       "axis": {"orient": "left", "offset": -163, "values": [1.4,1.5,1.6,1.7,1.8,1.9,2.0], "tickCount": 30, "format": ".1f", "labelFontSize": 9, "tickSize": 3, "title": "Potential (V)", "titleFontSize": 9, "titlePadding": 5, "zindex": 1}},
                 "color": {"datum": "Co₃O₄₋ₓ", "type": "nominal", "scale": {"domain": ["Co₃O₄₋ₓ"], "range": ["#f03cc8"]},
                           "legend": {"orient": "none", "legendX": 349, "legendY": 49, "title": null, "symbolType": "stroke", "symbolSize": 289, "symbolStrokeWidth": 1.5, "labelFontSize": 7, "labelOffset": 3}}
               }},
              {"data": {"values": [{}]}, "mark": {"type": "text", "text": "59994~60000 Cycle", "fontSize": 7}, "encoding": {"x": {"datum": 241}, "y": {"datum": 2.012}}}
            ]
          }
        ],
        "resolve": {"scale": {"x": "independent", "y": "independent"}}
      },
      {
        "width": 207, "height": 154,
        "layer": [
          {"data": {"name": "bdat"}, "mark": {"type": "line", "strokeWidth": 1.5},
           "encoding": {
             "x": {"field": "t", "type": "quantitative", "scale": {"domain": [0, 45], "nice": false}, "axis": {"values": [0,10,20,30,40], "tickCount": 30, "format": "d", "labelFontSize": 10, "title": "Time (s)", "titleFontSize": 11, "titlePadding": 2}},
             "y": {"field": "v", "type": "quantitative", "scale": {"domain": [1.4, 1.95], "nice": false, "zero": false}, "axis": {"values": [1.4,1.5,1.6,1.7,1.8,1.9], "tickCount": 30, "format": ".1f", "labelFontSize": 10, "title": "Potential (V)", "titleFontSize": 10, "titlePadding": 4}},
             "color": {"field": "s", "type": "nominal", "scale": {"domain": ["20000ᵗʰ cycle", "1ᵗʰ cycle"], "range": ["#ea2a2a", "#6b58e0"]},
                       "legend": {"orient": "none", "legendX": 130, "legendY": 6, "title": null, "symbolType": "stroke", "symbolSize": 324, "symbolStrokeWidth": 1.5, "labelFontSize": 9.5, "labelOffset": 3, "rowPadding": 1}},
             "order": {"field": "o", "type": "quantitative"}
           }},
          {"data": {"values": [{}]}, "mark": {"type": "text", "text": "M-Co₃O₄₋ₓ//Zn", "fontSize": 9}, "encoding": {"x": {"datum": 16.5}, "y": {"datum": 1.907}}},
          {"data": {"values": [{}]}, "mark": {"type": "text", "text": "b", "fontSize": 17, "align": "center", "baseline": "alphabetic"}, "encoding": {"x": {"datum": -7.6}, "y": {"datum": 1.918}}}
        ]
      }
    ],
    "spacing": 97,
    "bounds": "flush",
    "resolve": {"scale": {"color": "independent", "fill": "independent", "stroke": "independent", "shape": "independent"}}
  },
  {
    "hconcat": [
      {
        "width": 200, "height": 159,
        "layer": [
          {
            "layer": [
              {"data": {"name": "cbar"}, "mark": {"type": "bar", "size": 6, "strokeWidth": 0.5},
               "encoding": {
                 "x": {"field": "x", "type": "quantitative", "scale": {"domain": [-0.63, 12], "nice": false, "zero": false}, "axis": {"values": [0,2,4,6,8,10,12], "tickCount": 30, "format": "d", "labelFontSize": 10, "title": "Current density (A g⁻¹)", "titleFontSize": 11, "titlePadding": 3}},
                 "y": {"field": "v", "type": "quantitative", "stack": null, "scale": {"domain": [0, 600], "nice": false}, "axis": {"values": [0,100,200,300,400,500,600], "tickCount": 30, "format": "d", "labelFontSize": 10, "title": "Specific capacity (mAh g⁻¹)", "titleFontSize": 11, "titlePadding": 3}},
                 "fill": {"field": "s", "type": "nominal", "scale": {"domain": ["k20","zn"], "range": ["#dc46f5","#8b7e07"]},
                          "legend": {"orient": "none", "legendX": 40, "legendY": 6, "title": null, "symbolSize": 121, "symbolStrokeWidth": 1, "labelFontSize": 10, "labelOffset": 31, "rowPadding": 1.5, "labelExpr": "datum.label=='k20'?'M-Co₃O₄₋ₓ//Zn-20k':'M-Co₃O₄₋ₓ//Zn'",
                                     "encode": {"symbols": {"update": {"shape": {"signal": "datum.value=='k20'?'M-1,0L2.33,0M1.12,0A0.45,0.45,0,1,1,0.22,0A0.45,0.45,0,1,1,1.12,0ZM2.93,-1L6.27,-1L6.27,1L2.93,1Z':'M-1,0L2.33,0M0.27,-0.4L1.07,-0.4L1.07,0.4L0.27,0.4ZM2.93,-1L6.27,-1L6.27,1L2.93,1Z'"}}}}}},
                 "stroke": {"field": "s", "type": "nominal", "scale": {"domain": ["k20","zn"], "range": ["#d040ea","#7d7a10"]},
                          "legend": {"orient": "none", "legendX": 40, "legendY": 6, "title": null, "symbolSize": 121, "symbolStrokeWidth": 1, "labelFontSize": 10, "labelOffset": 31, "rowPadding": 1.5, "labelExpr": "datum.label=='k20'?'M-Co₃O₄₋ₓ//Zn-20k':'M-Co₃O₄₋ₓ//Zn'",
                                     "encode": {"symbols": {"update": {"shape": {"signal": "datum.value=='k20'?'M-1,0L2.33,0M1.12,0A0.45,0.45,0,1,1,0.22,0A0.45,0.45,0,1,1,1.12,0ZM2.93,-1L6.27,-1L6.27,1L2.93,1Z':'M-1,0L2.33,0M0.27,-0.4L1.07,-0.4L1.07,0.4L0.27,0.4ZM2.93,-1L6.27,-1L6.27,1L2.93,1Z'"}}}}}}
               }},
              {"data": {"values": [{}]}, "mark": {"type": "rule", "color": "black", "strokeWidth": 1}, "encoding": {"x": {"datum": -0.12}, "x2": {"datum": 0.74}, "y": {"datum": 250}}},
              {"data": {"values": [{}]}, "mark": {"type": "point", "shape": "triangle-left", "filled": true, "size": 22, "color": "black"}, "encoding": {"x": {"datum": -0.1}, "y": {"datum": 250}}},
              {"data": {"values": [{}]}, "mark": {"type": "rule", "color": "#5ac8f0", "strokeWidth": 1}, "encoding": {"x": {"datum": 10.21}, "x2": {"datum": 11.25}, "y": {"datum": 256.6}}},
              {"data": {"values": [{}]}, "mark": {"type": "point", "shape": "triangle-right", "filled": true, "size": 22, "color": "#5ac8f0"}, "encoding": {"x": {"datum": 11.25}, "y": {"datum": 256.6}}},
              {"data": {"values": [{}]}, "mark": {"type": "text", "text": "c", "fontSize": 17, "align": "center", "baseline": "alphabetic"}, "encoding": {"x": {"datum": -2.71}, "y": {"datum": 573.6}}}
            ]
          },
          {
            "layer": [
              {"data": {"name": "cline"}, "transform": [{"filter": "datum.s=='k20'"}], "mark": {"type": "line", "color": "#cf4ae8", "strokeWidth": 1.3, "point": {"filled": true, "size": 24, "color": "#cf4ae8"}},
               "encoding": {"x": {"field": "x", "type": "quantitative"},
                            "y": {"field": "v", "type": "quantitative", "scale": {"domain": [-0.254, 0.6], "nice": false, "zero": false},
                                  "axis": {"orient": "right", "values": [-0.2,-0.1,0,0.1,0.2,0.3,0.4,0.5,0.6], "tickCount": 30, "format": ".1f", "labelFontSize": 10, "labelColor": "#5ac8f0", "domainColor": "#5ac8f0", "tickColor": "#5ac8f0", "title": "Area capacity (mAh cm⁻²)", "titleColor": "#5ac8f0", "titleFontSize": 11, "titleAngle": 270, "titleBaseline": "top", "titlePadding": 3}}}},
              {"data": {"name": "cline"}, "transform": [{"filter": "datum.s=='zn'"}], "mark": {"type": "line", "color": "#7d8a12", "strokeWidth": 1.3, "point": {"filled": true, "size": 22, "shape": "square", "color": "#7d8a12"}},
               "encoding": {"x": {"field": "x", "type": "quantitative"}, "y": {"field": "v", "type": "quantitative"}}}
            ]
          }
        ],
        "resolve": {"scale": {"y": "independent"}}
      },
      {
        "hconcat": [
          {
            "width": 204, "height": 157,
            "layer": [
              {
                "layer": [
                  {"data": {"name": "dmain"}, "mark": {"type": "line", "strokeWidth": 1.2},
                   "encoding": {
                     "x": {"field": "x", "type": "quantitative", "scale": {"domain": [-3.6, 180], "nice": false, "zero": false}, "axis": {"values": [0,20,40,60,80,100,120,140,160,180], "tickCount": 30, "format": "d", "labelFontSize": 9, "title": "-Z' (Ω)", "titleFontSize": 11, "titlePadding": 3}},
                     "y": {"field": "v", "type": "quantitative", "scale": {"domain": [0, 180], "nice": false}, "axis": {"values": [0,20,40,60,80,100,120,140,160,180], "tickCount": 30, "format": "d", "labelFontSize": 9.5, "title": "-Z'' (Ω)", "titleFontSize": 11, "titlePadding": 3}},
                     "stroke": {"field": "s", "type": "nominal", "scale": {"domain": ["zn","k20"], "range": ["#8c9a12","#cc44ee"]},
                                "legend": {"orient": "none", "legendX": 64, "legendY": 4, "title": null, "symbolSize": 25, "symbolStrokeWidth": 1.2, "labelFontSize": 9.5, "labelOffset": 14, "rowPadding": 1, "labelExpr": "datum.label=='zn'?'M-Co₃O₄₋ₓ//Zn':'M-Co₃O₄₋ₓ //Zn-20k'",
                                           "encode": {"symbols": {"update": {"shape": {"signal": "datum.value=='zn'?'M-1,0L6.2,0M1.6,-1L3.6,-1L3.6,1L1.6,1Z':'M-1,0L6.2,0M3.6,0A1,1,0,1,1,1.6,0A1,1,0,1,1,3.6,0Z'"}}}}}}
                   }},
                  {"data": {"name": "dmain"}, "mark": {"type": "point", "filled": true, "size": 14},
                   "encoding": {
                     "x": {"field": "x", "type": "quantitative"},
                     "y": {"field": "v", "type": "quantitative"},
                     "fill": {"field": "s", "type": "nominal", "scale": {"domain": ["zn","k20"], "range": ["#8c9a12","#cc44ee"]},
                                "legend": {"orient": "none", "legendX": 64, "legendY": 4, "title": null, "symbolSize": 25, "symbolStrokeWidth": 1.2, "labelFontSize": 9.5, "labelOffset": 14, "rowPadding": 1, "labelExpr": "datum.label=='zn'?'M-Co₃O₄₋ₓ//Zn':'M-Co₃O₄₋ₓ //Zn-20k'",
                                           "encode": {"symbols": {"update": {"shape": {"signal": "datum.value=='zn'?'M-1,0L6.2,0M1.6,-1L3.6,-1L3.6,1L1.6,1Z':'M-1,0L6.2,0M3.6,0A1,1,0,1,1,1.6,0A1,1,0,1,1,3.6,0Z'"}}}}}},
                     "shape": {"field": "s", "type": "nominal", "scale": {"domain": ["zn","k20"], "range": ["square","circle"]},
                                "legend": {"orient": "none", "legendX": 64, "legendY": 4, "title": null, "symbolSize": 25, "symbolStrokeWidth": 1.2, "labelFontSize": 9.5, "labelOffset": 14, "rowPadding": 1, "labelExpr": "datum.label=='zn'?'M-Co₃O₄₋ₓ//Zn':'M-Co₃O₄₋ₓ //Zn-20k'",
                                           "encode": {"symbols": {"update": {"shape": {"signal": "datum.value=='zn'?'M-1,0L6.2,0M1.6,-1L3.6,-1L3.6,1L1.6,1Z':'M-1,0L6.2,0M3.6,0A1,1,0,1,1,1.6,0A1,1,0,1,1,3.6,0Z'"}}}}}}
                   }},
                  {"data": {"values": [{}]}, "mark": {"type": "text", "text": "d", "fontSize": 17, "align": "center", "baseline": "alphabetic"}, "encoding": {"x": {"datum": -31.5}, "y": {"datum": 172}}}
                ]
              },
              {
                "layer": [
                  {"data": {"values": [{}]}, "mark": {"type": "rect", "fill": "white", "stroke": "black", "strokeWidth": 0.8},
                   "encoding": {"x": {"datum": 0, "type": "quantitative"}, "x2": {"datum": 15.8}, "y": {"datum": 0, "type": "quantitative"}, "y2": {"datum": 15}}},
                  {"data": {"name": "dins"}, "mark": {"type": "line", "strokeWidth": 1, "point": {"filled": true, "size": 4}},
                   "encoding": {
                     "x": {"field": "x", "type": "quantitative", "scale": {"domain": [0, 15.8], "range": [80, 200], "nice": false, "zero": false},
                           "axis": {"orient": "bottom", "offset": -18.7, "values": [0,2,4,6,8,10,12,14], "tickCount": 30, "format": "d", "labelFontSize": 5.5, "tickSize": 2, "labelPadding": 0.5, "title": "-Z' (Ω)", "titleFontSize": 6, "titlePadding": 1, "zindex": 1}},
                     "y": {"field": "v", "type": "quantitative", "scale": {"domain": [0, 15], "range": [138.3, 46], "nice": false, "zero": false},
                           "axis": {"orient": "left", "offset": -80, "values": [0,2,4,6,8,10,12,14], "tickCount": 30, "format": "d", "labelFontSize": 5.5, "tickSize": 2, "labelPadding": 0.5, "title": "-Z'' (Ω)", "titleFontSize": 6, "titlePadding": 1, "zindex": 1}},
                     "color": {"field": "s", "type": "nominal", "scale": {"domain": ["izn","i20"], "range": ["#8c9a12","#cc44ee"]},
                               "legend": {"orient": "none", "legendX": 94, "legendY": 51, "title": null, "symbolType": "stroke", "symbolSize": 169, "symbolStrokeWidth": 1.2, "labelFontSize": 5.5, "labelOffset": 2, "rowPadding": 2.5, "labelExpr": "datum.label=='izn'?'M-Co₃O₄₋ₓ//Zn':'M-Co₃O₄₋ₓ //Zn-20k'"}}
                   }}
                ]
              }
            ],
            "resolve": {"scale": {"x": "independent", "y": "independent"}}
          },
          {
            "width": 211, "height": 155,
            "layer": [
              {"data": {"name": "edat"}, "mark": {"type": "point", "filled": true, "size": 38, "strokeWidth": 1},
               "encoding": {
                 "x": {"field": "x", "type": "quantitative", "scale": {"domain": [-1.2, 111], "nice": false, "zero": false}, "axis": {"values": [0,20,40,60,80,100], "tickCount": 30, "format": "d", "labelFontSize": 10, "title": "Cycle number", "titleFontSize": 11, "titlePadding": 3}},
                 "y": {"field": "v", "type": "quantitative", "scale": {"domain": [0, 478], "nice": false}, "axis": {"values": [0,50,100,150,200,250,300,350,400,450], "tickCount": 30, "format": "d", "labelFontSize": 10, "title": "Capacity (mAh g⁻¹)", "titleFontSize": 11, "titlePadding": 3}},
                 "stroke": {"field": "r", "type": "nominal", "scale": {"domain": ["1 A g⁻¹","2 A g⁻¹","4 A g⁻¹","6 A g⁻¹","8 A g⁻¹","10 A g⁻¹"], "range": ["#ee4fd8","#8062ee","#3fb82a","#d84ee8","#5b6cf0","#3c3c3c"]}, "legend": null},
                 "fill": {"field": "r", "type": "nominal", "scale": {"domain": ["1 A g⁻¹","2 A g⁻¹","4 A g⁻¹","6 A g⁻¹","8 A g⁻¹","10 A g⁻¹"], "range": ["transparent","transparent","#6fd84a","transparent","transparent","transparent"]}, "legend": null},
                 "shape": {"field": "r", "type": "nominal", "scale": {"domain": ["1 A g⁻¹","2 A g⁻¹","4 A g⁻¹","6 A g⁻¹","8 A g⁻¹","10 A g⁻¹"], "range": ["circle","triangle-up","M0,-1L0.2245,-0.309L0.951,-0.309L0.363,0.118L0.588,0.809L0,0.382L-0.588,0.809L-0.363,0.118L-0.951,-0.309L-0.2245,-0.309Z","square","circle","triangle-down"]}, "legend": null}
               }},
              {"data": {"name": "edat"}, "transform": [{"filter": "datum.x <= 60"}, {"aggregate": [{"op": "mean", "field": "x", "as": "mx"}, {"op": "max", "field": "v", "as": "mv"}], "groupby": ["r"]}],
               "mark": {"type": "text", "fontSize": 10, "fontWeight": "bold", "dy": -11, "dx": 1},
               "encoding": {"x": {"field": "mx", "type": "quantitative"}, "y": {"field": "mv", "type": "quantitative"}, "text": {"field": "r"}}},
              {"data": {"values": [{}]}, "mark": {"type": "text", "text": "M-Co₃O₄₋ₓ //Zn-20k", "fontSize": 9}, "encoding": {"x": {"datum": 52}, "y": {"datum": 445}}},
              {"data": {"values": [{}]}, "mark": {"type": "text", "text": "e", "fontSize": 17, "align": "center", "baseline": "alphabetic"}, "encoding": {"x": {"datum": -17}, "y": {"datum": 471.8}}}
            ]
          }
        ],
        "spacing": 55,
        "bounds": "flush",
        "resolve": {"scale": {"color": "independent", "fill": "independent", "stroke": "independent", "shape": "independent"}}
      }
    ],
    "spacing": 69,
    "bounds": "flush",
    "resolve": {"scale": {"color": "independent", "fill": "independent", "stroke": "independent", "shape": "independent"}}
  }
],
"spacing": 207,
"bounds": "flush",
"resolve": {"scale": {"color": "independent", "fill": "independent", "stroke": "independent", "shape": "independent"}}
}
